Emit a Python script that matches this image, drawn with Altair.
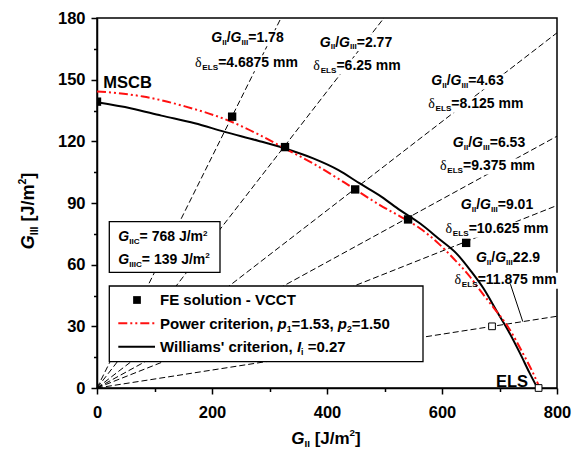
import altair as alt
import pandas as pd

# ---------------- data ----------------
fe_x = [0, 235, 327, 449, 541, 642]
fe_y = [139.3, 132.0, 117.2, 96.6, 82.0, 70.6]
open_x = [687, 768]
open_y = [30.0, 0.0]

will_x = [0, 60, 112, 170, 222, 280, 327, 376, 420, 457, 495, 527, 562, 595, 625, 650, 672, 695, 715, 736, 752, 766]
will_y = [139, 136, 132.5, 128.8, 124.6, 120.3, 116.5, 111.7, 106, 99.5, 93, 86.5, 80, 72.5, 65.5, 57, 48.5, 37.5, 28, 16.7, 7.5, 0]

pow_x = [0, 80, 153, 234, 280, 327, 376, 430, 492, 530, 562, 595, 620, 649, 666, 690, 715, 741, 758, 770]
pow_y = [144.3, 141.8, 137, 129.5, 123.5, 116.5, 109.2, 100, 89, 83, 77.6, 70, 63, 54, 47.6, 39, 29.7, 16.7, 7.5, 0]

ray_ratio = ["1.78", "2.77", "4.63", "6.53", "9.01", "22.9"]
ray_end_x = [320, 499, 800, 800, 800, 800]
ray_end_y = [180, 180, 172.8, 122.5, 88.8, 34.9]
delta_els = ["4.6875", "6.25", "8.125", "9.375", "10.625", "11.875"]

leader_x = [719, 740.5]
leader_y = [50.5, 32.3]

x_ticks = [0, 100, 200, 300, 400, 500, 600, 700, 800]
y_ticks = [0, 15, 30, 45, 60, 75, 90, 105, 120, 135, 150, 165, 180]

G_IIC = "768"
G_IIIC = "139"
p1, p2, li = "1.53", "1.50", "0.27"

# ---------------- layout helpers ----------------
PW, PH = 460, 370          # plot area in px
X0, Y0 = 97, 18            # plot origin on the page
XMAX, YMAX = 800, 180
xs = alt.Scale(domain=[0, XMAX], nice=False, zero=False)
ys = alt.Scale(domain=[0, YMAX], nice=False, zero=False)


def dx(px):
    return (px - X0) * XMAX / PW


def dy(py):
    return (Y0 + PH - py) * YMAX / PH


AW = {' ': 278, "'": 238, ',': 278, '-': 333, '.': 278, '/': 278, '=': 584, '[': 333, ']': 333,
      'B': 722, 'C': 722, 'E': 667, 'F': 611, 'G': 778, 'I': 278, 'J': 556, 'L': 611, 'M': 833,
      'P': 667, 'S': 667, 'T': 611, 'V': 667, 'W': 944, 'a': 556, 'c': 556, 'e': 556, 'i': 278,
      'l': 278, 'm': 889, 'n': 611, 'o': 611, 'p': 611, 'r': 389, 's': 556, 't': 333, 'u': 611,
      'w': 778}


def tw(s, size):
    return sum(AW.get(c, 556) for c in s) * size / 1000.0


def seg_metrics(segs, size):
    out = []
    for txt, kind in segs:
        if kind in ("sub", "sup"):
            fs = size * 0.58
            shift = 0.2 * size if kind == "sub" else -0.42 * size
            out.append((txt, "b", fs, shift, tw(txt, fs)))
        elif kind == "sym":
            out.append((txt, "sym", size, 0.0, 0.52 * size))
        else:
            out.append((txt, kind, size, 0.0, tw(txt, size)))
    return out


rows, rects = [], []


def add_row(txt, px, py, fs, st, rot):
    # leading spaces are collapsed by SVG, so move the piece instead
    lead = len(txt) - len(txt.lstrip(" "))
    shift = tw(" " * lead, fs)
    txt = txt.strip(" ")
    if not txt:
        return
    if rot:
        py -= shift
    else:
        px += shift
    rows.append(dict(x=dx(px), y=dy(py), text=txt, size=fs, style=st, rot=rot))


def place(segs, size, px, py_mid, align="left", vertical=False, bg=False):
    m = seg_metrics(segs, size)
    total = sum(w for *_, w in m)
    if not vertical:
        start = px - total / 2 if align == "center" else px
        base = py_mid + 0.358 * size
        off = 0
        for txt, st, fs, sh, w in m:
            add_row(txt, start + off, base + sh, fs, st, 0)
            off += w
        if bg:
            rects.append(dict(x=dx(start - 1.5), x2=dx(start + total + 1.5),
                              y=dy(base - 0.82 * size), y2=dy(base + 0.32 * size)))
    else:
        # px = baseline x, py_mid = centre along the text
        start = py_mid + total / 2
        off = 0
        for txt, st, fs, sh, w in m:
            add_row(txt, px + sh, start - off, fs, st, 1)
            off += w


lab_a = [(247.5, 36.7), (356, 41.5), (467.5, 80), (489, 141.7), (497, 204), (508, 256.7)]
lab_b = [(246.5, 61.7), (357, 65), (475.8, 103.3), (487.5, 165), (497, 228.3), (506, 279.3)]
for i, r in enumerate(ray_ratio):
    eq = "=" if r != "22.9" else ""
    place([("G", "bi"), ("II", "sub"), ("/", "b"), ("G", "bi"), ("III", "sub"), (eq + r, "b")],
          14, lab_a[i][0], lab_a[i][1], align="center", bg=True)
    place([("δ", "sym"), ("ELS", "sub"), ("=" + delta_els[i] + " mm", "b")],
          14, lab_b[i][0], lab_b[i][1], align="center", bg=True)

place([("MSCB", "b")], 16.5, 103.3, 82.5)
place([("ELS", "b")], 16.5, 496, 380.8)
place([("G", "bi"), ("IIC", "sub"), ("= " + G_IIC + " J/m", "b"), ("2", "sup")], 14, 118.3, 236.4)
place([("G", "bi"), ("IIIC", "sub"), ("= " + G_IIIC + " J/m", "b"), ("2", "sup")], 14, 118.3, 258.7)
place([("FE solution - VCCT", "b")], 15, 160, 300)
place([("Power criterion, ", "b"), ("p", "bi"), ("1", "sub"), ("=" + p1 + ", ", "b"),
       ("p", "bi"), ("2", "sub"), ("=" + p2, "b")], 15, 160, 323.3)
place([("Williams' criterion, ", "b"), ("I", "bi"), ("i", "sub"), (" =" + li, "b")], 15, 160, 346.7)
place([("G", "bi"), ("II", "sub"), (" [J/m", "b"), ("2", "sup"), ("]", "b")], 17, 326, 437.5, align="center")
place([("G", "bi"), ("III", "sub"), (" [J/m", "b"), ("2", "sup"), ("]", "b")], 18, 34, 211, vertical=True)

text_df = pd.DataFrame(rows)
rect_df = pd.DataFrame(rects)

# ---------------- chart tables ----------------
ray_rows = []
for i, r in enumerate(ray_ratio):
    ray_rows.append(dict(id=r, o=0, x=0, y=0))
    ray_rows.append(dict(id=r, o=1, x=ray_end_x[i], y=ray_end_y[i]))
ray_df = pd.DataFrame(ray_rows)
will_df = pd.DataFrame(dict(x=will_x, y=will_y, o=range(len(will_x))))
pow_df = pd.DataFrame(dict(x=pow_x, y=pow_y, o=range(len(pow_x))))
fe_df = pd.DataFrame(dict(x=fe_x, y=fe_y))
open_df = pd.DataFrame(dict(x=open_x, y=open_y))
leader_df = pd.DataFrame(dict(x=[leader_x[0]], y=[leader_y[0]], x2=[leader_x[1]], y2=[leader_y[1]]))

boxes_df = pd.DataFrame(dict(x=[dx(109.3), dx(109.3)], x2=[dx(220), dx(423)],
                             y=[dy(221.7), dy(286)], y2=[dy(272.3), dy(361.7)]))
leg_line_df = pd.DataFrame(dict(x=[dx(118.3)], x2=[dx(155)]))

LABEL_FONT = "Liberation Sans"
x_axis = alt.Axis(values=x_ticks, labelExpr="datum.value % 200 == 0 ? datum.label : ''",
                  tickSize={"condition": {"test": "datum.value % 200 == 0", "value": 6}, "value": 3.5},
                  title=None, grid=False, labelFont=LABEL_FONT, labelFontWeight="bold", labelFontSize=16.5,
                  labelColor="black", labelPadding=10, domainColor="black", domainWidth=1.5,
                  tickColor="black", tickWidth=1.5, labelFlush=False)
y_axis = alt.Axis(values=y_ticks, labelExpr="datum.value % 30 == 0 ? datum.label : ''",
                  tickSize={"condition": {"test": "datum.value % 30 == 0", "value": 6}, "value": 3.5},
                  title=None, grid=False, labelFont=LABEL_FONT, labelFontWeight="bold", labelFontSize=16.5,
                  labelColor="black", labelPadding=6, domainColor="black", domainWidth=1.5,
                  tickColor="black", tickWidth=1.5, labelFlush=False)


def X(f="x"):
    return alt.X(f + ":Q", scale=xs, axis=x_axis)


def Y(f="y"):
    return alt.Y(f + ":Q", scale=ys, axis=y_axis)


rays = alt.Chart(ray_df).mark_line(color="black", strokeWidth=1, strokeDash=[6, 3]).encode(
    x=X(), y=Y(), detail="id:N", order="o:Q")
label_bg = alt.Chart(rect_df).mark_rect(fill="white").encode(x=X(), x2="x2:Q", y=Y(), y2="y2:Q")
boxes = alt.Chart(boxes_df).mark_rect(fill="white", stroke="black", strokeWidth=1.3).encode(
    x=X(), x2="x2:Q", y=Y(), y2="y2:Q")
leg_red = alt.Chart(leg_line_df).mark_rule(color="#ff1010", strokeWidth=2,
                                           strokeDash=[9, 3, 2, 3, 2, 3]).encode(
    x=X(), x2="x2:Q", y=alt.datum(dy(323.3), scale=ys, axis=y_axis))
leg_black = alt.Chart(leg_line_df).mark_rule(color="black", strokeWidth=2).encode(
    x=X(), x2="x2:Q", y=alt.datum(dy(346.7), scale=ys, axis=y_axis))
leg_marker = alt.Chart(pd.DataFrame(dict(x=[dx(137)], y=[dy(300)]))).mark_point(
    shape="square", filled=True, color="black", size=60, opacity=1).encode(x=X(), y=Y())

will = alt.Chart(will_df).mark_line(color="black", strokeWidth=2, interpolate="monotone").encode(
    x=X(), y=Y(), order="o:Q")
powc = alt.Chart(pow_df).mark_line(color="#ff1010", strokeWidth=2, interpolate="monotone",
                                   strokeDash=[9, 3, 2, 3, 2, 3]).encode(x=X(), y=Y(), order="o:Q")
leader = alt.Chart(leader_df).mark_rule(color="black", strokeWidth=1).encode(
    x=X(), y=Y(), x2="x2:Q", y2="y2:Q")
fe = alt.Chart(fe_df).mark_point(shape="square", filled=True, color="black", size=70, opacity=1,
                                 clip=True).encode(x=X(), y=Y())
opn = alt.Chart(open_df).mark_point(shape="square", filled=True, fill="white", stroke="black",
                                    strokeWidth=1, size=45, opacity=1).encode(x=X(), y=Y())


def text_layer(style, rot):
    d = text_df[(text_df["style"] == style) & (text_df["rot"] == rot)]
    kw = dict(align="left", baseline="alphabetic", color="black")
    if style == "sym":
        kw.update(font="Liberation Serif", fontWeight="normal")
    elif style == "bi":
        kw.update(font=LABEL_FONT, fontWeight="bold", fontStyle="italic")
    else:
        kw.update(font=LABEL_FONT, fontWeight="bold")
    if rot:
        kw["angle"] = 270
    return alt.Chart(d).mark_text(**kw).encode(
        x=X(), y=Y(), text="text:N", size=alt.Size("size:Q", scale=None))


texts = [text_layer(s, r) for s in ("b", "bi", "sym") for r in (0, 1)
         if len(text_df[(text_df["style"] == s) & (text_df["rot"] == r)])]

chart = alt.layer(rays, label_bg, boxes, leg_red, leg_black, leg_marker, will, powc, leader, fe, opn,
                  *texts).properties(
    width=PW, height=PH,
    padding={"left": 89, "top": 10, "right": 17, "bottom": 62},
    autosize=alt.AutoSizeParams(type="none"),
    background="white",
).configure_view(stroke="black", strokeWidth=1.5)

chart.save("out.html", embed_options={"renderer": "svg", "actions": False})
